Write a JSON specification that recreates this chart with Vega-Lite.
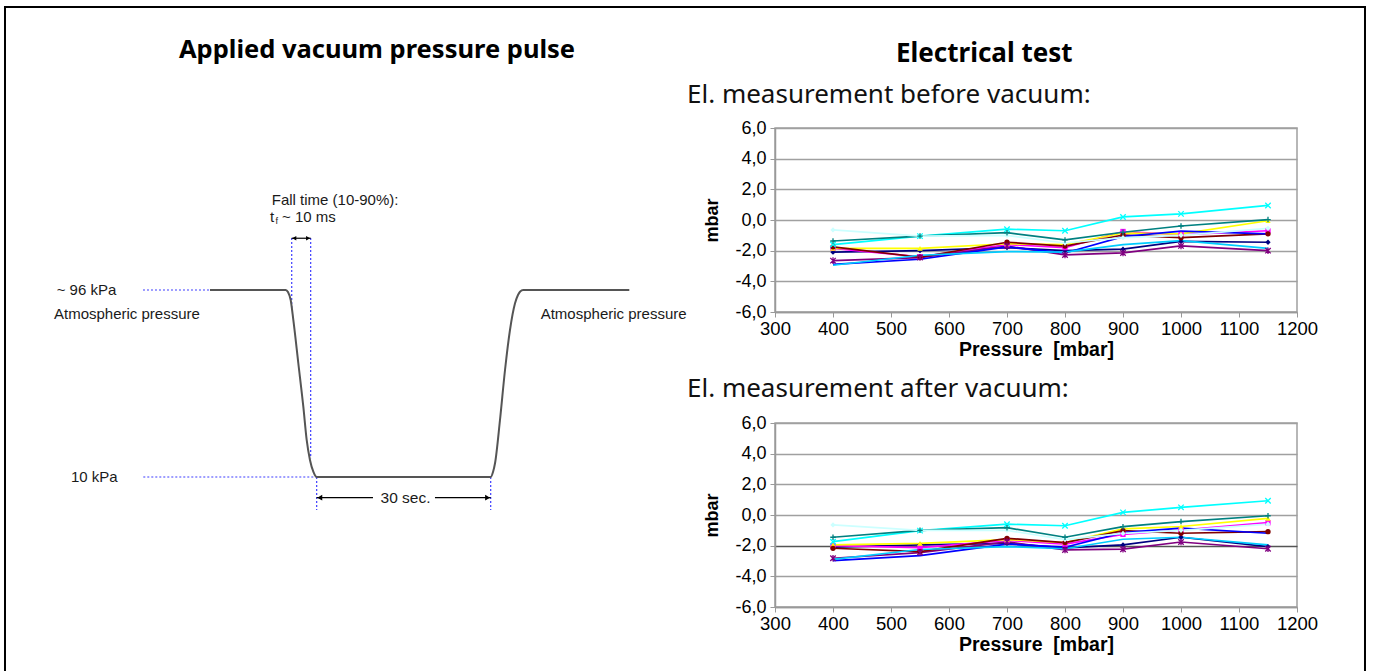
{
  "$schema": "https://vega.github.io/schema/vega-lite/v6.json",
  "padding": {"left": 3, "top": 5, "right": 6, "bottom": 0},
  "background": "white",
  "config": {"view": {"stroke": null}},
  "resolve": {"scale": {"shape": "independent", "color": "independent"}},
  "datasets": {
    "diagram": [
      {"kind": "frame", "t": -7.752, "t2": -7.752, "p": 226.15, "p2": -78.77},
      {"kind": "frame", "t": -7.752, "t2": 203.10, "p": 226.15, "p2": 226.15},
      {"kind": "frame", "t": 203.10, "t2": 203.10, "p": 226.15, "p2": -78.77},
      {"kind": "guide", "t": 13.64, "t2": 24.03, "p": 96, "p2": 96},
      {"kind": "guide", "t": 13.69, "t2": 40.57, "p": 10, "p2": 10},
      {"kind": "guide", "t": 36.70, "t2": 36.70, "p": 119.91, "p2": 87.4},
      {"kind": "guide", "t": 39.64, "t2": 39.64, "p": 119.91, "p2": 18.6},
      {"kind": "guide", "t": 40.57, "t2": 40.57, "p": 10, "p2": -5.19},
      {"kind": "guide", "t": 67.55, "t2": 67.55, "p": 10, "p2": -5.19},
      {"kind": "shaft", "t": 36.70, "t2": 39.64, "p": 119.8, "p2": 119.8},
      {"kind": "shaft", "t": 40.57, "t2": 49.30, "p": 0.47, "p2": 0.47},
      {"kind": "shaft", "t": 58.91, "t2": 67.55, "p": 0.47, "p2": 0.47},
      {"kind": "headS", "t": 37.10, "p": 119.8, "dir": "left"},
      {"kind": "headS", "t": 39.24, "p": 119.8, "dir": "right"},
      {"kind": "headL", "t": 41.05, "p": 0.47, "dir": "left"},
      {"kind": "headL", "t": 67.07, "p": 0.47, "dir": "right"},
      {"kind": "pulse", "t": 24.03, "p": 96},
      {"kind": "pulse", "t": 35.77, "p": 96},
      {"kind": "pulse", "t": 36.12, "p": 95.07},
      {"kind": "pulse", "t": 36.54, "p": 91.39},
      {"kind": "pulse", "t": 36.95, "p": 82.2},
      {"kind": "pulse", "t": 37.72, "p": 62.42},
      {"kind": "pulse", "t": 38.50, "p": 42.32},
      {"kind": "pulse", "t": 39.02, "p": 27.01},
      {"kind": "pulse", "t": 39.53, "p": 17.81},
      {"kind": "pulse", "t": 40.05, "p": 12.43},
      {"kind": "pulse", "t": 40.57, "p": 10},
      {"kind": "pulse", "t": 67.55, "p": 10},
      {"kind": "pulse", "t": 67.91, "p": 12.29},
      {"kind": "pulse", "t": 68.22, "p": 16.29},
      {"kind": "pulse", "t": 68.99, "p": 36.2},
      {"kind": "pulse", "t": 69.77, "p": 59.2},
      {"kind": "pulse", "t": 70.54, "p": 77.6},
      {"kind": "pulse", "t": 71.32, "p": 89.88},
      {"kind": "pulse", "t": 71.78, "p": 93.69},
      {"kind": "pulse", "t": 72.09, "p": 95.21},
      {"kind": "pulse", "t": 72.60, "p": 96},
      {"kind": "pulse", "t": 89.04, "p": 96},
      {"kind": "label", "t": 0.26, "p": 96, "label": "~ 96 kPa"},
      {"kind": "label", "t": -0.16, "p": 85, "label": "Atmospheric pressure"},
      {"kind": "label", "t": 2.48, "p": 10, "label": "10 kPa"},
      {"kind": "label", "t": 33.60, "p": 137.39, "label": "Fall time (10-90%):"},
      {"kind": "label", "t": 33.33, "p": 129.71, "label": "t"},
      {"kind": "label", "t": 35.19, "p": 129.71, "label": "~ 10 ms"},
      {"kind": "label", "t": 75.30, "p": 85, "label": "Atmospheric pressure"},
      {"kind": "clabel", "t": 54.34, "p": 0.47, "label": "30 sec."},
      {"kind": "sub", "t": 34.19, "p": 127.73, "label": "f"},
      {"kind": "title", "t": 49.92, "p": 206.37, "label": "Applied vacuum pressure pulse"}
    ],
    "meas": [
      {"phase": "before", "series": "S1", "pressure": 400, "value": -2.1},
      {"phase": "before", "series": "S1", "pressure": 550, "value": -2.0},
      {"phase": "before", "series": "S1", "pressure": 700, "value": -1.8},
      {"phase": "before", "series": "S1", "pressure": 800, "value": -2.0},
      {"phase": "before", "series": "S1", "pressure": 900, "value": -1.9},
      {"phase": "before", "series": "S1", "pressure": 1000, "value": -1.4},
      {"phase": "before", "series": "S1", "pressure": 1150, "value": -1.45},
      {"phase": "before", "series": "S2", "pressure": 400, "value": -1.85},
      {"phase": "before", "series": "S2", "pressure": 550, "value": -2.4},
      {"phase": "before", "series": "S2", "pressure": 700, "value": -1.6},
      {"phase": "before", "series": "S2", "pressure": 800, "value": -1.8},
      {"phase": "before", "series": "S2", "pressure": 900, "value": -0.75},
      {"phase": "before", "series": "S2", "pressure": 1000, "value": -0.95},
      {"phase": "before", "series": "S2", "pressure": 1150, "value": -0.7},
      {"phase": "before", "series": "S3", "pressure": 400, "value": -1.85},
      {"phase": "before", "series": "S3", "pressure": 550, "value": -1.85},
      {"phase": "before", "series": "S3", "pressure": 700, "value": -1.55},
      {"phase": "before", "series": "S3", "pressure": 800, "value": -1.6},
      {"phase": "before", "series": "S3", "pressure": 900, "value": -0.85},
      {"phase": "before", "series": "S3", "pressure": 1000, "value": -0.9},
      {"phase": "before", "series": "S3", "pressure": 1150, "value": -0.05},
      {"phase": "before", "series": "S4", "pressure": 400, "value": -1.6},
      {"phase": "before", "series": "S4", "pressure": 550, "value": -1.05},
      {"phase": "before", "series": "S4", "pressure": 700, "value": -0.6},
      {"phase": "before", "series": "S4", "pressure": 800, "value": -0.7},
      {"phase": "before", "series": "S4", "pressure": 900, "value": 0.2},
      {"phase": "before", "series": "S4", "pressure": 1000, "value": 0.4},
      {"phase": "before", "series": "S4", "pressure": 1150, "value": 0.95},
      {"phase": "before", "series": "S5", "pressure": 400, "value": -2.65},
      {"phase": "before", "series": "S5", "pressure": 550, "value": -2.45},
      {"phase": "before", "series": "S5", "pressure": 700, "value": -1.7},
      {"phase": "before", "series": "S5", "pressure": 800, "value": -2.28},
      {"phase": "before", "series": "S5", "pressure": 900, "value": -2.15},
      {"phase": "before", "series": "S5", "pressure": 1000, "value": -1.69},
      {"phase": "before", "series": "S5", "pressure": 1150, "value": -2.0},
      {"phase": "before", "series": "S6", "pressure": 400, "value": -1.75},
      {"phase": "before", "series": "S6", "pressure": 550, "value": -2.43},
      {"phase": "before", "series": "S6", "pressure": 700, "value": -1.45},
      {"phase": "before", "series": "S6", "pressure": 800, "value": -1.7},
      {"phase": "before", "series": "S6", "pressure": 900, "value": -0.98},
      {"phase": "before", "series": "S6", "pressure": 1000, "value": -1.15},
      {"phase": "before", "series": "S6", "pressure": 1150, "value": -0.9},
      {"phase": "before", "series": "S7", "pressure": 400, "value": -1.37},
      {"phase": "before", "series": "S7", "pressure": 550, "value": -1.05},
      {"phase": "before", "series": "S7", "pressure": 700, "value": -0.83},
      {"phase": "before", "series": "S7", "pressure": 800, "value": -1.3},
      {"phase": "before", "series": "S7", "pressure": 900, "value": -0.8},
      {"phase": "before", "series": "S7", "pressure": 1000, "value": -0.39},
      {"phase": "before", "series": "S7", "pressure": 1150, "value": 0.03},
      {"phase": "before", "series": "S8", "pressure": 400, "value": -2.89},
      {"phase": "before", "series": "S8", "pressure": 550, "value": -2.56},
      {"phase": "before", "series": "S8", "pressure": 700, "value": -1.75},
      {"phase": "before", "series": "S8", "pressure": 800, "value": -2.15},
      {"phase": "before", "series": "S8", "pressure": 900, "value": -1.09},
      {"phase": "before", "series": "S8", "pressure": 1000, "value": -0.72},
      {"phase": "before", "series": "S8", "pressure": 1150, "value": -0.9},
      {"phase": "before", "series": "S9", "pressure": 400, "value": -2.95},
      {"phase": "before", "series": "S9", "pressure": 550, "value": -2.3},
      {"phase": "before", "series": "S9", "pressure": 700, "value": -2.06},
      {"phase": "before", "series": "S9", "pressure": 800, "value": -2.1},
      {"phase": "before", "series": "S9", "pressure": 900, "value": -1.6},
      {"phase": "before", "series": "S9", "pressure": 1000, "value": -1.35},
      {"phase": "before", "series": "S9", "pressure": 1150, "value": -1.85},
      {"phase": "before", "series": "S10", "pressure": 400, "value": -0.65},
      {"phase": "before", "series": "S10", "pressure": 550, "value": -1.05},
      {"phase": "before", "series": "S10", "pressure": 700, "value": -1.0},
      {"phase": "before", "series": "S10", "pressure": 800, "value": -1.5},
      {"phase": "before", "series": "S10", "pressure": 900, "value": -1.15},
      {"phase": "before", "series": "S10", "pressure": 1000, "value": -1.0},
      {"phase": "before", "series": "S10", "pressure": 1150, "value": -0.55},
      {"phase": "after", "series": "S1", "pressure": 400, "value": -2.1},
      {"phase": "after", "series": "S1", "pressure": 550, "value": -1.95},
      {"phase": "after", "series": "S1", "pressure": 700, "value": -1.85},
      {"phase": "after", "series": "S1", "pressure": 800, "value": -2.15},
      {"phase": "after", "series": "S1", "pressure": 900, "value": -1.95},
      {"phase": "after", "series": "S1", "pressure": 1000, "value": -1.45},
      {"phase": "after", "series": "S1", "pressure": 1150, "value": -2.06},
      {"phase": "after", "series": "S2", "pressure": 400, "value": -2.0},
      {"phase": "after", "series": "S2", "pressure": 550, "value": -2.13},
      {"phase": "after", "series": "S2", "pressure": 700, "value": -1.65},
      {"phase": "after", "series": "S2", "pressure": 800, "value": -1.9},
      {"phase": "after", "series": "S2", "pressure": 900, "value": -1.26},
      {"phase": "after", "series": "S2", "pressure": 1000, "value": -0.98},
      {"phase": "after", "series": "S2", "pressure": 1150, "value": -0.5},
      {"phase": "after", "series": "S3", "pressure": 400, "value": -1.95},
      {"phase": "after", "series": "S3", "pressure": 550, "value": -1.85},
      {"phase": "after", "series": "S3", "pressure": 700, "value": -1.6},
      {"phase": "after", "series": "S3", "pressure": 800, "value": -1.8},
      {"phase": "after", "series": "S3", "pressure": 900, "value": -0.9},
      {"phase": "after", "series": "S3", "pressure": 1000, "value": -0.75},
      {"phase": "after", "series": "S3", "pressure": 1150, "value": -0.22},
      {"phase": "after", "series": "S4", "pressure": 400, "value": -1.74},
      {"phase": "after", "series": "S4", "pressure": 550, "value": -1.02},
      {"phase": "after", "series": "S4", "pressure": 700, "value": -0.6},
      {"phase": "after", "series": "S4", "pressure": 800, "value": -0.7},
      {"phase": "after", "series": "S4", "pressure": 900, "value": 0.17},
      {"phase": "after", "series": "S4", "pressure": 1000, "value": 0.5},
      {"phase": "after", "series": "S4", "pressure": 1150, "value": 0.93},
      {"phase": "after", "series": "S5", "pressure": 400, "value": -2.82},
      {"phase": "after", "series": "S5", "pressure": 550, "value": -2.45},
      {"phase": "after", "series": "S5", "pressure": 700, "value": -1.75},
      {"phase": "after", "series": "S5", "pressure": 800, "value": -2.28},
      {"phase": "after", "series": "S5", "pressure": 900, "value": -2.23},
      {"phase": "after", "series": "S5", "pressure": 1000, "value": -1.76},
      {"phase": "after", "series": "S5", "pressure": 1150, "value": -2.2},
      {"phase": "after", "series": "S6", "pressure": 400, "value": -2.17},
      {"phase": "after", "series": "S6", "pressure": 550, "value": -2.39},
      {"phase": "after", "series": "S6", "pressure": 700, "value": -1.52},
      {"phase": "after", "series": "S6", "pressure": 800, "value": -1.8},
      {"phase": "after", "series": "S6", "pressure": 900, "value": -1.02},
      {"phase": "after", "series": "S6", "pressure": 1000, "value": -1.19},
      {"phase": "after", "series": "S6", "pressure": 1150, "value": -1.09},
      {"phase": "after", "series": "S7", "pressure": 400, "value": -1.45},
      {"phase": "after", "series": "S7", "pressure": 550, "value": -1.0},
      {"phase": "after", "series": "S7", "pressure": 700, "value": -0.83},
      {"phase": "after", "series": "S7", "pressure": 800, "value": -1.45},
      {"phase": "after", "series": "S7", "pressure": 900, "value": -0.76},
      {"phase": "after", "series": "S7", "pressure": 1000, "value": -0.43},
      {"phase": "after", "series": "S7", "pressure": 1150, "value": -0.05},
      {"phase": "after", "series": "S8", "pressure": 400, "value": -2.98},
      {"phase": "after", "series": "S8", "pressure": 550, "value": -2.65},
      {"phase": "after", "series": "S8", "pressure": 700, "value": -1.9},
      {"phase": "after", "series": "S8", "pressure": 800, "value": -2.1},
      {"phase": "after", "series": "S8", "pressure": 900, "value": -1.15},
      {"phase": "after", "series": "S8", "pressure": 1000, "value": -0.85},
      {"phase": "after", "series": "S8", "pressure": 1150, "value": -1.19},
      {"phase": "after", "series": "S9", "pressure": 400, "value": -2.9},
      {"phase": "after", "series": "S9", "pressure": 550, "value": -2.25},
      {"phase": "after", "series": "S9", "pressure": 700, "value": -2.06},
      {"phase": "after", "series": "S9", "pressure": 800, "value": -2.2},
      {"phase": "after", "series": "S9", "pressure": 900, "value": -1.58},
      {"phase": "after", "series": "S9", "pressure": 1000, "value": -1.45},
      {"phase": "after", "series": "S9", "pressure": 1150, "value": -1.95},
      {"phase": "after", "series": "S10", "pressure": 400, "value": -0.65},
      {"phase": "after", "series": "S10", "pressure": 550, "value": -1.0},
      {"phase": "after", "series": "S10", "pressure": 700, "value": -1.0},
      {"phase": "after", "series": "S10", "pressure": 800, "value": -1.6},
      {"phase": "after", "series": "S10", "pressure": 900, "value": -1.2},
      {"phase": "after", "series": "S10", "pressure": 1000, "value": -1.0},
      {"phase": "after", "series": "S10", "pressure": 1150, "value": -0.6}
    ]
  },
  "spacing": 75,
  "bounds": "flush",
  "hconcat": [
    {
      "width": 645,
      "height": 479,
      "view": {"stroke": null},
      "data": {"name": "diagram"},
      "encoding": {
        "x": {"field": "t", "type": "quantitative", "scale": {"domain": [0, 100], "nice": false, "zero": false}, "axis": null},
        "y": {"field": "p", "type": "quantitative", "scale": {"domain": [-49.8, 170.5], "nice": false, "zero": false}, "axis": null}
      },
      "layer": [
        {
          "transform": [{"filter": "datum.kind == 'frame'"}],
          "mark": {"type": "rule", "color": "black", "strokeWidth": 2, "strokeCap": "square"},
          "encoding": {"x2": {"field": "t2"}, "y2": {"field": "p2"}}
        },
        {
          "transform": [{"filter": "datum.kind == 'guide'"}],
          "mark": {"type": "rule", "color": "#3d3dff", "strokeWidth": 1.2, "strokeDash": [2, 2]},
          "encoding": {"x2": {"field": "t2"}, "y2": {"field": "p2"}}
        },
        {
          "transform": [{"filter": "datum.kind == 'pulse'"}],
          "mark": {"type": "line", "color": "#555555", "strokeWidth": 2, "interpolate": "monotone"}
        },
        {
          "transform": [{"filter": "datum.kind == 'shaft'"}],
          "mark": {"type": "rule", "color": "black", "strokeWidth": 1.2},
          "encoding": {"x2": {"field": "t2"}, "y2": {"field": "p2"}}
        },
        {
          "transform": [{"filter": "datum.kind == 'headS'"}],
          "mark": {"type": "point", "filled": true, "color": "black", "size": 22, "opacity": 1},
          "encoding": {"shape": {"field": "dir", "type": "nominal", "scale": {"domain": ["left", "right"], "range": ["triangle-left", "triangle-right"]}, "legend": null}}
        },
        {
          "transform": [{"filter": "datum.kind == 'headL'"}],
          "mark": {"type": "point", "filled": true, "color": "black", "size": 32, "opacity": 1},
          "encoding": {"shape": {"field": "dir", "type": "nominal", "scale": {"domain": ["left", "right"], "range": ["triangle-left", "triangle-right"]}, "legend": null}}
        },
        {
          "transform": [{"filter": "datum.kind == 'label'"}],
          "mark": {"type": "text", "align": "left", "baseline": "middle", "font": "Liberation Sans", "fontSize": 15, "color": "#1a1a1a"},
          "encoding": {"text": {"field": "label"}}
        },
        {
          "transform": [{"filter": "datum.kind == 'clabel'"}],
          "mark": {"type": "text", "align": "center", "baseline": "middle", "font": "Liberation Sans", "fontSize": 15.5, "color": "#1a1a1a"},
          "encoding": {"text": {"field": "label"}}
        },
        {
          "transform": [{"filter": "datum.kind == 'sub'"}],
          "mark": {"type": "text", "align": "left", "baseline": "middle", "font": "Liberation Sans", "fontSize": 9, "color": "#1a1a1a"},
          "encoding": {"text": {"field": "label"}}
        },
        {
          "transform": [{"filter": "datum.kind == 'title'"}],
          "mark": {"type": "text", "align": "center", "baseline": "middle", "font": "Noto Sans", "fontSize": 25.5, "fontWeight": "bold", "color": "black"},
          "encoding": {"text": {"field": "label"}}
        }
      ]
    },
    {
      "title": {"text": "Electrical test", "font": "Noto Sans", "fontSize": 26, "fontWeight": "bold", "color": "black", "anchor": "middle", "dx": -18, "offset": 14},
      "spacing": 111,
      "bounds": "flush",
      "vconcat": [
        {
          "width": 522,
          "height": 184,
          "view": {"stroke": "#a0a0a0", "strokeWidth": 1.5},
          "title": {"text": "El. measurement before vacuum:", "font": "Noto Sans", "fontSize": 26, "fontWeight": "normal", "color": "#111111", "anchor": "start", "frame": "group", "dx": -88, "offset": 11},
          "data": {"name": "meas"},
          "transform": [{"filter": "datum.phase == 'before'"}],
          "encoding": {
            "x": {"field": "pressure", "type": "quantitative", "scale": {"domain": [300, 1200], "nice": false, "zero": false},
              "axis": {"values": [300, 400, 500, 600, 700, 800, 900, 1000, 1100, 1200], "format": "d", "title": "Pressure\u00a0 [mbar]", "titleFont": "Liberation Sans", "titleFontSize": 19.5, "titleFontWeight": "bold", "titleColor": "black", "titlePadding": 3, "labelFont": "Liberation Sans", "labelFontSize": 18.5, "labelColor": "black", "labelPadding": 2, "labelFlush": false, "labelOverlap": false, "tickColor": "#999999", "tickSize": 5, "domainColor": "#999999", "domainWidth": 1.5, "grid": false}},
            "y": {"field": "value", "type": "quantitative", "scale": {"domain": [-6, 6], "nice": false, "zero": false},
              "axis": {"values": [-6, -4, -2, 0, 2, 4, 6], "title": "mbar", "titleFont": "Liberation Sans", "titleFontSize": 18, "titleFontWeight": "bold", "titleColor": "black", "titlePadding": 13, "labelFont": "Liberation Sans", "labelFontSize": 18, "labelColor": "black", "labelPadding": 4, "labelFlush": false, "labelOverlap": false, "labelExpr": "(datum.value < 0 ? '-' : '') + replace(format(abs(datum.value), '.1f'), '.', ',')", "tickColor": "#999999", "tickSize": 5, "domainColor": "#999999", "domainWidth": 1.5, "grid": true, "gridColor": "#a0a0a0", "gridWidth": 1.5}},
            "color": {"field": "series", "type": "nominal", "scale": {"domain": ["S1", "S2", "S3", "S4", "S5", "S6", "S7", "S8", "S9", "S10"], "range": ["#000080", "#FF00FF", "#FFFF00", "#00FFFF", "#800080", "#800000", "#008080", "#0000FF", "#00CCFF", "#CCFFFF"]}, "legend": null},
            "shape": {"field": "series", "type": "nominal", "scale": {"domain": ["S1", "S2", "S3", "S4", "S5", "S6", "S7", "S8", "S9", "S10"], "range": ["diamond", "square", "triangle-up", "M-1,-1L1,1M-1,1L1,-1", "M-1,-1L1,1M-1,1L1,-1M0,-1.2L0,1.2", "circle", "M-1,0L1,0M0,-1L0,1", "circle", "circle", "diamond"]}, "legend": null}
          },
          "layer": [
            {"mark": {"type": "line", "strokeWidth": 1.7}, "encoding": {"shape": null}},
            {
              "transform": [{"filter": "indexof(['S1','S2','S3','S6','S10'], datum.series) >= 0"}],
              "mark": {"type": "point", "filled": true, "size": 28, "opacity": 1}
            },
            {
              "transform": [{"filter": "indexof(['S4','S5','S7'], datum.series) >= 0"}],
              "mark": {"type": "point", "filled": false, "size": 30, "strokeWidth": 1.3, "opacity": 1}
            }
          ]
        },
        {
          "width": 522,
          "height": 184,
          "view": {"stroke": "#a0a0a0", "strokeWidth": 1.5},
          "title": {"text": "El. measurement after vacuum:", "font": "Noto Sans", "fontSize": 26, "fontWeight": "normal", "color": "#111111", "anchor": "start", "frame": "group", "dx": -88, "offset": 12},
          "data": {"name": "meas"},
          "transform": [{"filter": "datum.phase == 'after'"}],
          "encoding": {
            "x": {"field": "pressure", "type": "quantitative", "scale": {"domain": [300, 1200], "nice": false, "zero": false},
              "axis": {"values": [300, 400, 500, 600, 700, 800, 900, 1000, 1100, 1200], "format": "d", "title": "Pressure\u00a0 [mbar]", "titleFont": "Liberation Sans", "titleFontSize": 19.5, "titleFontWeight": "bold", "titleColor": "black", "titlePadding": 3, "labelFont": "Liberation Sans", "labelFontSize": 18.5, "labelColor": "black", "labelPadding": 2, "labelFlush": false, "labelOverlap": false, "tickColor": "#999999", "tickSize": 5, "domainColor": "#999999", "domainWidth": 1.5, "grid": false}},
            "y": {"field": "value", "type": "quantitative", "scale": {"domain": [-6, 6], "nice": false, "zero": false},
              "axis": {"values": [-6, -4, -2, 0, 2, 4, 6], "title": "mbar", "titleFont": "Liberation Sans", "titleFontSize": 18, "titleFontWeight": "bold", "titleColor": "black", "titlePadding": 13, "labelFont": "Liberation Sans", "labelFontSize": 18, "labelColor": "black", "labelPadding": 4, "labelFlush": false, "labelOverlap": false, "labelExpr": "(datum.value < 0 ? '-' : '') + replace(format(abs(datum.value), '.1f'), '.', ',')", "tickColor": "#999999", "tickSize": 5, "domainColor": "#999999", "domainWidth": 1.5, "grid": true, "gridColor": {"condition": {"test": "datum.value == -2", "value": "#555555"}, "value": "#a0a0a0"}, "gridWidth": 1.5}},
            "color": {"field": "series", "type": "nominal", "scale": {"domain": ["S1", "S2", "S3", "S4", "S5", "S6", "S7", "S8", "S9", "S10"], "range": ["#000080", "#FF00FF", "#FFFF00", "#00FFFF", "#800080", "#800000", "#008080", "#0000FF", "#00CCFF", "#CCFFFF"]}, "legend": null},
            "shape": {"field": "series", "type": "nominal", "scale": {"domain": ["S1", "S2", "S3", "S4", "S5", "S6", "S7", "S8", "S9", "S10"], "range": ["diamond", "square", "triangle-up", "M-1,-1L1,1M-1,1L1,-1", "M-1,-1L1,1M-1,1L1,-1M0,-1.2L0,1.2", "circle", "M-1,0L1,0M0,-1L0,1", "circle", "circle", "diamond"]}, "legend": null}
          },
          "layer": [
            {"mark": {"type": "line", "strokeWidth": 1.7}, "encoding": {"shape": null}},
            {
              "transform": [{"filter": "indexof(['S1','S2','S3','S6','S10'], datum.series) >= 0"}],
              "mark": {"type": "point", "filled": true, "size": 28, "opacity": 1}
            },
            {
              "transform": [{"filter": "indexof(['S4','S5','S7'], datum.series) >= 0"}],
              "mark": {"type": "point", "filled": false, "size": 30, "strokeWidth": 1.3, "opacity": 1}
            }
          ]
        }
      ]
    }
  ]
}
